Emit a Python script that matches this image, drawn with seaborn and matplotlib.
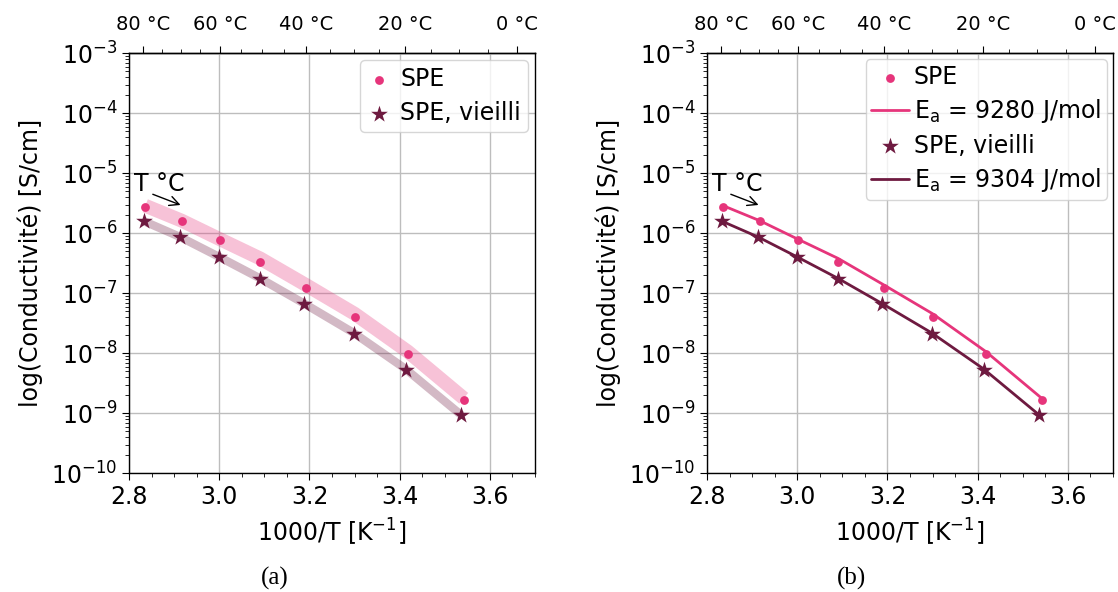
import numpy as np
import seaborn as sns
import matplotlib.pyplot as plt
from matplotlib.ticker import AutoMinorLocator, FixedLocator

# data
inv_T_spe = [2.836, 2.917, 3.002, 3.091, 3.192, 3.300, 3.418, 3.542]
sigma_spe = [2.77e-6, 1.60e-6, 7.6e-7, 3.36e-7, 1.24e-7, 3.98e-8, 9.8e-9, 1.65e-9]
fit_spe = [2.88e-6, 1.62e-6, 7.94e-7, 3.80e-7, 1.38e-7, 4.57e-8, 1.07e-8, 1.78e-9]

inv_T_old = [2.834, 2.913, 2.999, 3.090, 3.188, 3.298, 3.413, 3.537]
sigma_old = [1.60e-6, 8.6e-7, 4.07e-7, 1.75e-7, 6.6e-8, 2.1e-8, 5.3e-9, 9.4e-10]
fit_old = [1.58e-6, 8.7e-7, 4.07e-7, 1.78e-7, 6.76e-8, 2.19e-8, 5.5e-9, 9.3e-10]

ea_spe = 9280
ea_old = 9304
celsius_ticks = [80, 60, 40, 20, 0]
celsius_minor = [75, 70, 65, 55, 50, 45, 35, 30, 25, 15, 10, 5]

PINK = "#e6357b"
MAROON = "#6e1a40"
FS = 17

sns.set_style("ticks")
plt.rcParams['font.family'] = ['DejaVu Sans']
plt.rcParams['font.size'] = FS
plt.rcParams['axes.linewidth'] = 1.0
for key in ['text.color', 'axes.labelcolor', 'xtick.color', 'ytick.color', 'axes.edgecolor']:
    plt.rcParams[key] = 'black'


def to_celsius(x):
    x = np.asarray(x, dtype=float)
    with np.errstate(divide="ignore"):
        return 1000.0 / x - 273.15


def to_inv(c):
    c = np.asarray(c, dtype=float)
    with np.errstate(divide="ignore"):
        return 1000.0 / (c + 273.15)


def setup_axes(ax):
    ax.set_yscale("log")
    ax.set_xlim(2.8, 3.7)
    ax.set_ylim(1e-10, 1e-3)
    ax.xaxis.set_minor_locator(AutoMinorLocator(4))
    ax.grid(True, which="major", color="#bdbdbd", linewidth=1.0)
    ax.tick_params(axis="both", which="major", labelsize=FS, length=5, color="black")
    ax.tick_params(axis="both", which="minor", length=3, color="black")
    ax.set_xlabel("1000/T [K$^{-1}$]", fontsize=FS, labelpad=6)
    ax.set_ylabel("log(Conductivité) [S/cm]", fontsize=FS, labelpad=6)
    top = ax.secondary_xaxis("top", functions=(to_celsius, to_inv))
    top.xaxis.set_major_locator(FixedLocator(celsius_ticks))
    top.xaxis.set_minor_locator(FixedLocator(celsius_minor))
    top.set_xticklabels([f"{c} °C" for c in celsius_ticks])
    top.tick_params(axis="x", which="major", labelsize=14, length=5, pad=9)
    top.tick_params(axis="x", which="minor", length=3)
    ax.text(2.812, 10 ** -5.29, "T °C", fontsize=FS)
    ax.annotate("", xy=(2.92, 10 ** -5.545), xytext=(2.847, 10 ** -5.333),
                arrowprops=dict(arrowstyle="->", color="black", lw=1.0))


fig = plt.figure(figsize=(11.18, 5.92), dpi=100)
ax1 = fig.add_axes([0.1154, 0.2005, 0.3631, 0.7095])
ax2 = fig.add_axes([0.6324, 0.2005, 0.3631, 0.7095])

# (a) bands
sns.lineplot(x=inv_T_spe, y=fit_spe, ax=ax1, color=PINK, alpha=0.3, linewidth=10,
             solid_capstyle="butt", label="_nolegend_")
sns.lineplot(x=inv_T_old, y=fit_old, ax=ax1, color=MAROON, alpha=0.3, linewidth=6,
             solid_capstyle="butt", label="_nolegend_")
sns.scatterplot(x=inv_T_spe, y=sigma_spe, ax=ax1, color=PINK, marker="o", s=40,
                linewidth=0, label="SPE", zorder=3)
sns.scatterplot(x=inv_T_old, y=sigma_old, ax=ax1, color=MAROON, marker="*", s=160,
                linewidth=0, label="SPE, vieilli", zorder=3)
setup_axes(ax1)
ax1.legend(loc="upper right", fontsize=FS, handlelength=1.0, handletextpad=0.4,
           borderpad=0.3, labelspacing=0.4, borderaxespad=0.3)

# (b) fits
sns.scatterplot(x=inv_T_spe, y=sigma_spe, ax=ax2, color=PINK, marker="o", s=40,
                linewidth=0, label="SPE")
sns.lineplot(x=inv_T_spe, y=fit_spe, ax=ax2, color=PINK, linewidth=2,
             label=r"E$_\mathrm{a}$ = %d J/mol" % ea_spe)
sns.scatterplot(x=inv_T_old, y=sigma_old, ax=ax2, color=MAROON, marker="*", s=160,
                linewidth=0, label="SPE, vieilli")
sns.lineplot(x=inv_T_old, y=fit_old, ax=ax2, color=MAROON, linewidth=2,
             label=r"E$_\mathrm{a}$ = %d J/mol" % ea_old)
setup_axes(ax2)
ax2.legend(loc="upper right", fontsize=FS, handletextpad=0.2, borderpad=0.25,
           labelspacing=0.35, handlelength=1.6, borderaxespad=0.25)

fig.text(0.246, 0.012, "(a)", fontsize=18, family="Liberation Serif", ha="center")
fig.text(0.762, 0.012, "(b)", fontsize=18, family="Liberation Serif", ha="center")

fig.savefig("out.png", dpi=100)
